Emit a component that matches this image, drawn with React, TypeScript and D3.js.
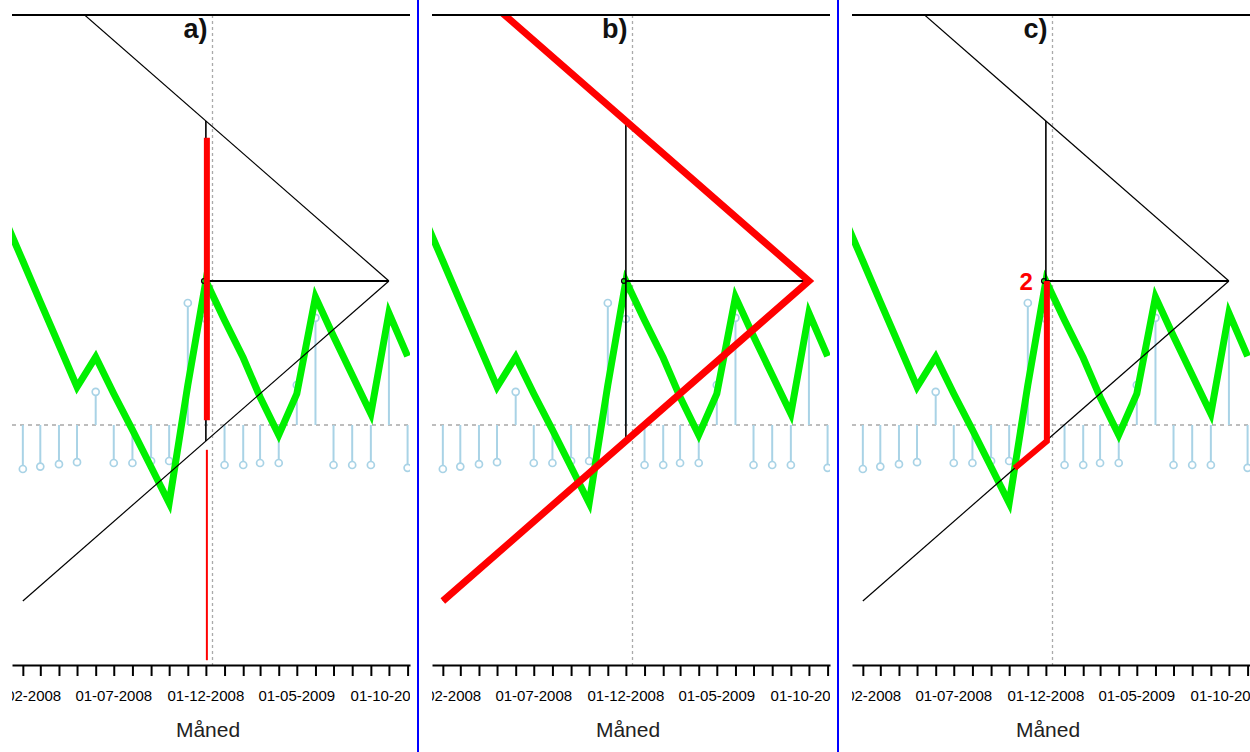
import React, { useRef, useEffect } from "react";
import * as d3 from "d3";

// monthly observations (first of month)
const months = [
  "2008-01", "2008-02", "2008-03", "2008-04", "2008-05", "2008-06",
  "2008-07", "2008-08", "2008-09", "2008-10", "2008-11", "2008-12",
  "2009-01", "2009-02", "2009-03", "2009-04", "2009-05", "2009-06",
  "2009-07", "2009-08", "2009-09", "2009-10", "2009-11",
];
// cumulated sum (green line)
const cusum = [
  5.18, 4.1, 3.08, 2.0, 0.95, 1.7, 0.78, -0.12, -1.05, -1.95, 1.0, 3.6,
  2.62, 1.68, 0.7, -0.25, 0.78, 3.2, 2.22, 1.25, 0.28, 2.8, 1.72,
];
// monthly deviations (light blue lollipops), none shown for Jan 2008
const deviations = [
  null, -1.1, -1.04, -0.98, -0.93, 0.83, -0.95, -0.95, -0.9, -0.9, 3.05, 2.65,
  -1.0, -1.0, -0.95, -0.95, 1.0, 2.68, -1.0, -1.0, -1.0, 2.58, -1.07,
];

const tickLabels = ["01-02-2008", "01-07-2008", "01-12-2008", "01-05-2009", "01-10-2009"];
const xDomain = ["2008-01-14", "2009-11-05"];
const yDomain = [-6, 10.25];
const referenceDate = "2008-12-12";

// V-mask
const maskAnchor = "2008-12";
const maskVertex = "2009-10";
const maskArmStart = "2008-02";
const maskHalfWidth = 4.0; // arm distance from anchor value at the anchor month

// panel a red bars at the anchor month
const redThick = [7.18, 0.12];
const redThin = [-0.62, -5.88];

const panels = ["a", "b", "c"];

const W = 1250;
const H = 752;
const PANEL_W = 420;
const left = 12;
const right = 410;
const top = 15;
const bottom = 665;

const parseMonth = d3.timeParse("%Y-%m");
const parseDay = d3.timeParse("%Y-%m-%d");
const parseLabel = d3.timeParse("%d-%m-%Y");

const GREEN = "#00f000";
const BLUE_LIGHT = "#a9d3e6";
const FONT = "'Liberation Sans', Arial, sans-serif";

function App() {
  const svgRef = useRef(null);

  useEffect(() => {
    const svg = d3.select(svgRef.current);
    svg.selectAll("*").remove();

    const x = d3.scaleTime()
      .domain(xDomain.map((d) => parseDay(d)))
      .range([left, right]);
    const y = d3.scaleLinear().domain(yDomain).range([bottom, top]);

    const dates = months.map((m) => parseMonth(m));
    const anchorIdx = months.indexOf(maskAnchor);
    const anchorDate = dates[anchorIdx];
    const anchorValue = cusum[anchorIdx];
    const vertexDate = parseMonth(maskVertex);
    const armStartDate = parseMonth(maskArmStart);
    const span = +vertexDate - +anchorDate;
    const armOffset = (d) => ((+vertexDate - +d) / span) * maskHalfWidth;
    const upperArm = (d) => anchorValue + armOffset(d);
    const lowerArm = (d) => anchorValue - armOffset(d);

    // where the lower arm meets the green line, walking back from the anchor
    let cross = { x: x(anchorDate), y: y(lowerArm(anchorDate)) };
    for (let i = anchorIdx; i > 0; i--) {
      const x0 = x(dates[i - 1]), x1 = x(dates[i]);
      const f0 = y(cusum[i - 1]) - y(lowerArm(dates[i - 1]));
      const f1 = y(cusum[i]) - y(lowerArm(dates[i]));
      if (f0 > 0 && f1 <= 0) {
        const t = f0 / (f0 - f1);
        const xc = x0 + t * (x1 - x0);
        const dc = x.invert(xc);
        cross = { x: xc, y: y(lowerArm(dc)) };
        break;
      }
    }

    panels.forEach((key, pi) => {
      const g = svg.append("g").attr("transform", `translate(${pi * PANEL_W},0)`);

      const clipId = `plot-clip-${key}`;
      const labelClipId = `label-clip-${key}`;
      const defs = g.append("defs");
      defs.append("clipPath").attr("id", clipId)
        .append("rect").attr("x", left).attr("y", top)
        .attr("width", right - left).attr("height", bottom - top);
      defs.append("clipPath").attr("id", labelClipId)
        .append("rect").attr("x", left).attr("y", bottom)
        .attr("width", right - left).attr("height", H - bottom);

      const plot = g.append("g").attr("clip-path", `url(#${clipId})`);

      // reference date (dotted)
      plot.append("line")
        .attr("x1", x(parseDay(referenceDate))).attr("x2", x(parseDay(referenceDate)))
        .attr("y1", top).attr("y2", bottom)
        .attr("stroke", "#aaaaaa").attr("stroke-width", 1.3)
        .attr("stroke-dasharray", "3,3");

      // zero line
      plot.append("line")
        .attr("x1", left).attr("x2", right)
        .attr("y1", y(0)).attr("y2", y(0))
        .attr("stroke", "#a8a8a8").attr("stroke-width", 1.3)
        .attr("stroke-dasharray", "4,4");

      // lollipops
      const lolli = months
        .map((m, i) => ({ date: dates[i], value: deviations[i] }))
        .filter((d) => d.value !== null);
      plot.selectAll(".stem").data(lolli).join("line")
        .attr("class", "stem")
        .attr("x1", (d) => x(d.date)).attr("x2", (d) => x(d.date))
        .attr("y1", y(0)).attr("y2", (d) => y(d.value))
        .attr("stroke", BLUE_LIGHT).attr("stroke-width", 2);
      plot.selectAll(".dot").data(lolli).join("circle")
        .attr("class", "dot")
        .attr("cx", (d) => x(d.date)).attr("cy", (d) => y(d.value))
        .attr("r", 3.5)
        .attr("fill", "white").attr("stroke", BLUE_LIGHT).attr("stroke-width", 1.7);

      // cusum line
      const line = d3.line().x((d) => x(d[0])).y((d) => y(d[1]));
      plot.append("path")
        .datum(dates.map((d, i) => [d, cusum[i]]))
        .attr("d", line)
        .attr("fill", "none").attr("stroke", GREEN)
        .attr("stroke-width", 7).attr("stroke-linejoin", "miter");

      // V-mask
      const black = plot.append("g").attr("stroke", "black").attr("fill", "none");
      black.append("line")
        .attr("x1", x(vertexDate)).attr("y1", y(anchorValue))
        .attr("x2", x(armStartDate)).attr("y2", y(upperArm(armStartDate)))
        .attr("stroke-width", 1.2);
      black.append("line")
        .attr("x1", x(vertexDate)).attr("y1", y(anchorValue))
        .attr("x2", x(armStartDate)).attr("y2", y(lowerArm(armStartDate)))
        .attr("stroke-width", 1.2);
      black.append("line")
        .attr("x1", x(anchorDate)).attr("y1", y(anchorValue))
        .attr("x2", x(vertexDate)).attr("y2", y(anchorValue))
        .attr("stroke-width", 1.8);
      black.append("line")
        .attr("x1", x(anchorDate)).attr("y1", y(upperArm(anchorDate)))
        .attr("x2", x(anchorDate)).attr("y2", y(lowerArm(anchorDate)))
        .attr("stroke-width", 1.6);
      black.append("circle")
        .attr("cx", x(anchorDate) - 2).attr("cy", y(anchorValue)).attr("r", 2.3)
        .attr("stroke-width", 1.3);

      // red highlights
      if (key === "a") {
        plot.append("line")
          .attr("x1", x(anchorDate) + 1).attr("x2", x(anchorDate) + 1)
          .attr("y1", y(redThick[0])).attr("y2", y(redThick[1]))
          .attr("stroke", "red").attr("stroke-width", 6);
        plot.append("line")
          .attr("x1", x(anchorDate) + 1).attr("x2", x(anchorDate) + 1)
          .attr("y1", y(redThin[0])).attr("y2", y(redThin[1]))
          .attr("stroke", "red").attr("stroke-width", 2);
      } else if (key === "b") {
        const armPath = d3.line()([
          [x(armStartDate), y(upperArm(armStartDate))],
          [x(vertexDate), y(anchorValue)],
          [x(armStartDate), y(lowerArm(armStartDate))],
        ]);
        plot.append("path").attr("d", armPath)
          .attr("fill", "none").attr("stroke", "red")
          .attr("stroke-width", 7).attr("stroke-linejoin", "miter");
      } else {
        const p = d3.line()([
          [x(anchorDate) + 1, y(anchorValue)],
          [x(anchorDate) + 1, y(lowerArm(anchorDate))],
          [cross.x, cross.y],
        ]);
        plot.append("path").attr("d", p)
          .attr("fill", "none").attr("stroke", "red")
          .attr("stroke-width", 6).attr("stroke-linejoin", "miter");
        g.append("text")
          .attr("x", x(anchorDate) - 13).attr("y", y(anchorValue) + 9)
          .attr("text-anchor", "end")
          .attr("font-family", FONT).attr("font-weight", "bold")
          .attr("font-size", 24).attr("fill", "red")
          .text("2");
      }

      // top border
      g.append("line")
        .attr("x1", left).attr("x2", right).attr("y1", top).attr("y2", top)
        .attr("stroke", "black").attr("stroke-width", 2);

      // panel title
      g.append("text")
        .attr("x", x(parseDay(referenceDate)) - 5).attr("y", 38)
        .attr("text-anchor", "end")
        .attr("font-family", FONT).attr("font-weight", "bold")
        .attr("font-size", 27).attr("fill", "#111")
        .text(`${key})`);

      // x axis
      const axis = d3.axisBottom(x)
        .ticks(d3.timeMonth.every(1))
        .tickFormat(() => "")
        .tickSize(11)
        .tickSizeOuter(0);
      const ax = g.append("g").attr("transform", `translate(0,${bottom})`).call(axis);
      ax.select(".domain").attr("stroke-width", 2.2);
      ax.selectAll(".tick line").attr("stroke-width", 2);

      g.append("g").attr("clip-path", `url(#${labelClipId})`)
        .selectAll("text").data(tickLabels).join("text")
        .attr("x", (d) => x(parseLabel(d)))
        .attr("y", 701)
        .attr("text-anchor", "middle")
        .attr("font-family", FONT).attr("font-size", 15).attr("fill", "black")
        .text((d) => d);

      g.append("text")
        .attr("x", (left + right) / 2 - 3).attr("y", 737)
        .attr("text-anchor", "middle")
        .attr("font-family", FONT).attr("font-size", 21).attr("fill", "#222")
        .text("Måned");

      // blue separator to the right of panel
      if (pi < panels.length - 1) {
        g.append("line")
          .attr("x1", 418).attr("x2", 418).attr("y1", 0).attr("y2", H)
          .attr("stroke", "#0000ff").attr("stroke-width", 2);
      }
    });
  }, []);

  return (
    <div style={{ position: "absolute", left: 0, top: 0 }}>
      <svg ref={svgRef} width={W} height={H} style={{ display: "block", background: "white" }} />
    </div>
  );
}

export default App;
